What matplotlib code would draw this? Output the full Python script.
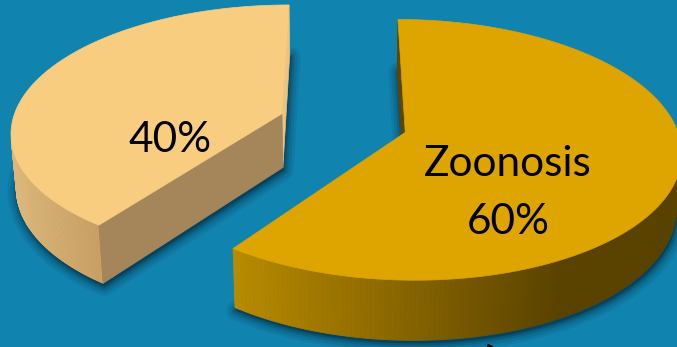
import numpy as np
import matplotlib.pyplot as plt
from matplotlib.patches import Polygon

# data
categories = ['', 'Zoonosis']
shares = [40, 60]
top_colors = ['#f9cd80', '#dea500']
wall_left = ['#dcb779', '#b98b00']
wall_right = ['#c99f63', '#5a4200']
start_face_colors = ['#ecc47e', '#8a6a00']
end_face_colors = ['#a5865a', '#5e4500']
label_pos = [(170, 140), (508, 193)]

# simple perspective camera for the 3D pie
W, H = 677, 347
F, D = 1804.0, 6.68
elev = np.radians(27.7)
s, c = np.sin(elev), np.cos(elev)
X0, Y0 = 343, 123
thick = 0.23
explode = 0.24
cam = np.array([0.0, -D * c, D * s])


def proj(x, y, z):
    v = y * s + z * c
    w = y * c - z * s
    k = F / (D + w)
    return X0 + x * k, Y0 - v * k


def facing(p, n):
    return np.dot(cam - p, n) > 0


def mix(c1, c2, t):
    a = np.array(plt.matplotlib.colors.to_rgb(c1))
    b = np.array(plt.matplotlib.colors.to_rgb(c2))
    return tuple(a + (b - a) * np.clip(t, 0, 1))


fig = plt.figure(figsize=(W / 100, H / 100), dpi=100)
fig.patch.set_facecolor('#1183af')
ax = fig.add_axes([0, 0, 1, 1])
ax.set_xlim(0, W)
ax.set_ylim(H, 0)
ax.axis('off')

angle = 90.0
for i, share in enumerate(shares):
    a0 = angle
    a1 = angle + share * 3.6
    angle = a1
    mid = np.radians((a0 + a1) / 2)
    ox, oy = explode * np.cos(mid), explode * np.sin(mid)
    th = np.radians(np.linspace(a0, a1, 240))
    rx, ry = ox + np.cos(th), oy + np.sin(th)

    # soft shadow around the bottom outline
    bx, by = proj(np.r_[ox, rx], np.r_[oy, ry], -thick)
    for lw, al in [(14, 0.10), (10, 0.14), (6, 0.2), (3, 0.3)]:
        ax.add_patch(Polygon(np.c_[bx + 1, by + 3], closed=True, fc='#06344a',
                             ec='#06344a', lw=lw, alpha=al, joinstyle='round'))

    # outer wall, only the parts that face the camera
    tx, ty = proj(rx, ry, 0)
    ux, uy = proj(rx, ry, -thick)
    for j in range(len(th) - 1):
        tm = (th[j] + th[j + 1]) / 2
        n = np.array([np.cos(tm), np.sin(tm), 0])
        p = np.array([ox + np.cos(tm), oy + np.sin(tm), 0])
        if not facing(p, n):
            continue
        if i == 0:
            t = (tx[j] - 15) / (100 - 15)
        else:
            t = (tx[j] - 232) / (560 - 232)
        col = mix(wall_left[i], wall_right[i], t)
        quad = [(tx[j], ty[j]), (tx[j + 1], ty[j + 1]), (ux[j + 1], uy[j + 1]), (ux[j], uy[j])]
        ax.add_patch(Polygon(quad, closed=True, fc=col, ec=col, lw=0.6))

    # radial cut faces
    for ang, sign, col in [(a0, -1, start_face_colors[i]), (a1, 1, end_face_colors[i])]:
        r = np.radians(ang)
        nr = r + sign * np.pi / 2
        n = np.array([np.cos(nr), np.sin(nr), 0])
        p = np.array([ox + 0.5 * np.cos(r), oy + 0.5 * np.sin(r), 0])
        if not facing(p, n):
            continue
        ex, ey = ox + np.cos(r), oy + np.sin(r)
        pts = [proj(ox, oy, 0), proj(ex, ey, 0), proj(ex, ey, -thick), proj(ox, oy, -thick)]
        ax.add_patch(Polygon(pts, closed=True, fc=col, ec=col, lw=0.5))

    # top face
    px, py = proj(np.r_[ox, rx], np.r_[oy, ry], 0)
    ax.add_patch(Polygon(np.c_[px, py], closed=True, fc=top_colors[i],
                         ec=top_colors[i], lw=0.5))

    # label
    lx, ly = label_pos[i]
    txt = f'{share}%' if not categories[i] else f'{categories[i]}\n{share}%'
    ax.text(lx, ly, txt, ha='center', va='center', fontsize=30.5, family='Lato',
            color='black', linespacing=1.65)

# arrow tip peeking in at the bottom
ax.annotate('', xy=(485, 341), xytext=(530, 400),
            arrowprops=dict(arrowstyle='-|>', color='black', lw=2, mutation_scale=25),
            annotation_clip=False)

fig.savefig('out.png', dpi=100, facecolor=fig.get_facecolor())
